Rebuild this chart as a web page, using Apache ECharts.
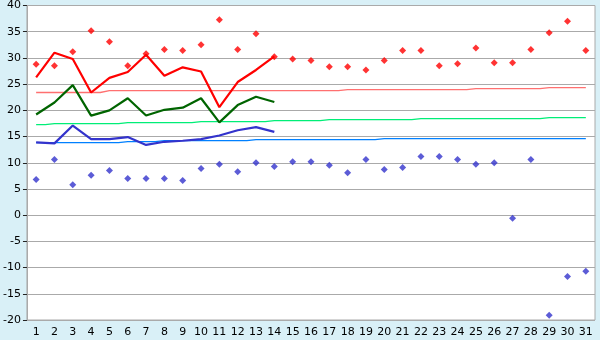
<!DOCTYPE html>
<html><head><meta charset="utf-8">
<script src="https://cdn.jsdelivr.net/npm/echarts@6/dist/echarts.min.js"></script>
<style>html,body{margin:0;padding:0;background:#d9f0f7;}#c{width:600px;height:340px;}</style>
</head><body><div id="c"></div>
<script>
const days = Array.from({length:31}, (_, i) => String(i + 1));
const yTicks = { min: -20, max: 40, interval: 5 };

const maxObs = [28.8,28.5,31.2,35.2,33.1,28.5,30.8,31.6,31.4,32.5,37.3,31.6,34.6,30.2,29.8,29.5,28.3,28.3,27.7,29.5,31.4,31.4,28.5,28.9,31.9,29.1,29.1,31.6,34.8,37.0,31.4];
const minObs = [6.8,10.6,5.8,7.6,8.5,7.0,7.0,7.0,6.6,8.9,9.7,8.3,10.0,9.3,10.2,10.2,9.5,8.1,10.6,8.7,9.1,11.2,11.2,10.6,9.7,10.0,-0.6,10.6,-19.1,-11.7,-10.7];

const maxMean = [26.3,31.0,29.8,23.4,26.2,27.3,30.6,26.6,28.2,27.4,20.6,25.4,27.7,30.3];
const meanMean = [19.2,21.5,24.8,19.0,20.0,22.3,19.0,20.1,20.5,22.3,17.7,21.0,22.6,21.6];
const minMean = [13.9,13.7,17.1,14.5,14.5,14.9,13.4,14.0,14.2,14.5,15.2,16.2,16.8,15.9];

const maxClim = [23.4,23.4,23.4,23.4,23.75,23.75,23.75,23.75,23.75,23.75,23.75,23.75,23.75,23.75,23.75,23.75,23.75,23.94,23.94,23.94,23.94,23.94,23.94,23.94,24.13,24.13,24.13,24.13,24.32,24.32,24.32];
const meanClim = [17.27,17.46,17.46,17.46,17.46,17.65,17.65,17.65,17.65,17.84,17.84,17.84,17.84,18.03,18.03,18.03,18.22,18.22,18.22,18.22,18.22,18.41,18.41,18.41,18.41,18.41,18.41,18.41,18.6,18.6,18.6];
const minClim = [13.85,13.85,13.85,13.85,13.85,14.03,14.03,14.22,14.22,14.22,14.22,14.22,14.41,14.41,14.41,14.41,14.41,14.41,14.41,14.6,14.6,14.6,14.6,14.6,14.6,14.6,14.6,14.6,14.6,14.6,14.6];

const chart = echarts.init(document.getElementById('c'), null, {renderer:'canvas'});
const font = 'DejaVu Sans';
function clim(data, color) {
  return { type:'line', data, step:'middle', showSymbol:false, symbol:'none', silent:true,
    lineStyle:{ color, width:1.3 }, z:2 };
}
function main(data, color) {
  return { type:'line', data, showSymbol:false, symbol:'none', silent:true,
    lineStyle:{ color, width:2.2 }, z:3 };
}
function pts(data, color) {
  return { type:'scatter', data, symbol:'diamond', symbolSize:7, silent:true,
    itemStyle:{ color }, z:4 };
}
chart.setOption({
  backgroundColor:'#d9f0f7',
  animation:false,
  grid:{ left:26, right:5, top:5, bottom:20, show:true, backgroundColor:'#ffffff', borderColor:'#aaaaaa', borderWidth:1 },
  xAxis:{ type:'category', data:days, boundaryGap:true,
    axisLine:{ lineStyle:{ color:'#aaaaaa' } },
    axisTick:{ alignWithLabel:true, length:5, lineStyle:{ color:'#222' } },
    axisLabel:{ color:'#000', fontFamily:font, fontSize:11, margin:7, interval:0 },
    splitLine:{ show:false } },
  yAxis:{ type:'value', min:yTicks.min, max:yTicks.max, interval:yTicks.interval,
    axisLine:{ show:true, lineStyle:{ color:'#aaaaaa' } },
    axisTick:{ show:true, length:4, lineStyle:{ color:'#222' } },
    axisLabel:{ color:'#000', fontFamily:font, fontSize:11, margin:6 },
    splitLine:{ lineStyle:{ color:'#aaaaaa', width:1 } } },
  series:[
    clim(maxClim, '#ff7070'),
    clim(meanClim, '#00ee77'),
    clim(minClim, '#0080ff'),
    main(maxMean, '#ff0000'),
    main(meanMean, '#006400'),
    main(minMean, '#3333cc'),
    pts(maxObs, '#ff0000'),
    pts(minObs, '#3333cc')
  ]
});
</script></body></html>
